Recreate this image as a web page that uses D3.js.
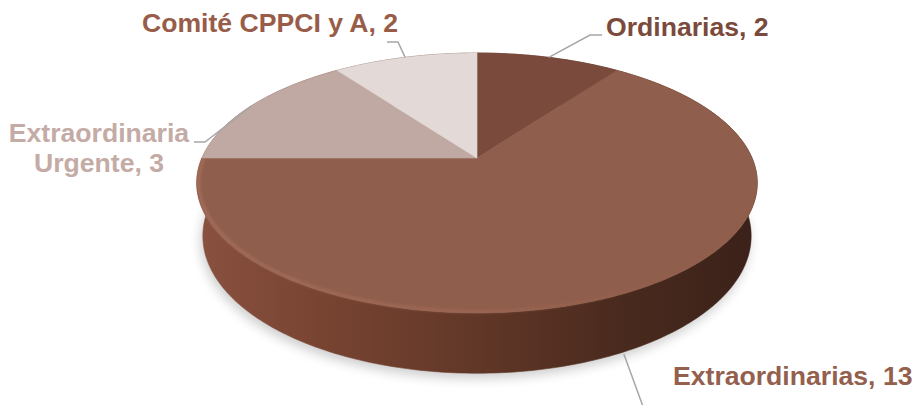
<!DOCTYPE html>
<html>
<head>
<meta charset="utf-8">
<script src="https://cdn.jsdelivr.net/npm/d3@7"></script>
<style>
  html, body { margin: 0; padding: 0; background: #fff; }
  svg { display: block; }
  .lbl { font-family: "Liberation Sans", Arial, sans-serif; font-weight: bold; font-size: 26.6px; }
</style>
</head>
<body>
<svg id="chart"></svg>
<script>
const categories = ["Ordinarias", "Extraordinarias", "Extraordinaria Urgente", "Comité CPPCI y A"];
const values = [2, 13, 3, 2];
const labelLines = [["Ordinarias, 2"], ["Extraordinarias, 13"], ["Extraordinaria", "Urgente, 3"], ["Comité CPPCI y A, 2"]];

const width = 913;
const height = 405;

const topColors = ["#7a4b3d", "#905e4c", "#c1a9a3", "#e3dad7"];
const textColors = ["#7b4a3b", "#93604e", "#c4aba5", "#985c48"];

const svg = d3.select("#chart")
  .attr("width", width)
  .attr("height", height);

// simple perspective camera for the tilted disc
const cx = 477, cy = 158;
const f = 1275, dist = 1, R = 0.2157, thick = 0.047;
const sinP = 0.455, cosP = Math.sqrt(1 - sinP * sinP);

function project(theta, r, y) {
  const X = r * Math.sin(theta);
  const Z = -r * Math.cos(theta);
  const yc = Z * sinP - y * cosP;
  const zc = dist - Z * cosP - y * sinP;
  return [cx + f * X / zc, cy + f * yc / zc];
}

function arcPoints(a0, a1, r, y) {
  const n = Math.max(2, Math.ceil((a1 - a0) / (Math.PI / 180)));
  const pts = [];
  for (let i = 0; i <= n; i++) pts.push(project(a0 + (a1 - a0) * i / n, r, y));
  return pts;
}

const pie = d3.pie().sort(null).value(d => d)(values);
const line = d3.line();

const defs = svg.append("defs");
defs.append("filter").attr("id", "shadow")
  .attr("x", "-20%").attr("y", "-20%").attr("width", "140%").attr("height", "140%")
  .append("feGaussianBlur").attr("stdDeviation", 6);
defs.append("filter").attr("id", "soft")
  .attr("x", "-10%").attr("y", "-10%").attr("width", "120%").attr("height", "120%")
  .append("feGaussianBlur").attr("stdDeviation", 1.6);

const wallGrad = defs.append("linearGradient").attr("id", "wall")
  .attr("gradientUnits", "userSpaceOnUse")
  .attr("x1", 195).attr("x2", 760).attr("y1", 0).attr("y2", 0);
[[0, "#8a5140"], [0.2, "#7a4533"], [0.5, "#613727"], [0.75, "#4a2a1e"], [1, "#3a2119"]]
  .forEach(s => wallGrad.append("stop").attr("offset", s[0]).attr("stop-color", s[1]));

const rimGrad = defs.append("linearGradient").attr("id", "rim")
  .attr("gradientUnits", "userSpaceOnUse")
  .attr("x1", 195).attr("x2", 760).attr("y1", 0).attr("y2", 0);
[[0, "#c08570", 0.6], [0.5, "#b47862", 0.5], [0.85, "#a06450", 0.1], [1, "#a06450", 0]]
  .forEach(s => rimGrad.append("stop").attr("offset", s[0]).attr("stop-color", s[1]).attr("stop-opacity", s[2]));

// soft shadow under the disc
const bottomRing = arcPoints(0, 2 * Math.PI, R, -thick);
svg.append("path")
  .attr("d", line(bottomRing.map(p => [p[0] - 2, p[1] + 5])) + "Z")
  .attr("fill", "#000")
  .attr("opacity", 0.2)
  .attr("filter", "url(#shadow)");

// outer walls
pie.forEach(s => {
  const topArc = arcPoints(s.startAngle, s.endAngle, R, 0);
  const botArc = arcPoints(s.startAngle, s.endAngle, R, -thick).reverse();
  svg.append("path")
    .attr("d", line(topArc.concat(botArc)) + "Z")
    .attr("fill", "url(#wall)")
    .attr("stroke", "url(#wall)")
    .attr("stroke-width", 0.6);
});

// top faces
pie.forEach((s, i) => {
  const pts = [project(0, 0, 0)].concat(arcPoints(s.startAngle, s.endAngle, R, 0));
  svg.append("path")
    .attr("d", line(pts) + "Z")
    .attr("fill", topColors[i])
    .attr("stroke", topColors[i])
    .attr("stroke-width", 0.6);
});

// bevel highlight along the front rim
svg.append("path")
  .attr("d", line(arcPoints(Math.PI * 0.62, Math.PI * 1.5, R * 0.993, 0)))
  .attr("fill", "none")
  .attr("stroke", "url(#rim)")
  .attr("stroke-width", 2)
  .attr("filter", "url(#soft)");

// labels and leader lines
const labelPos = [
  { x: 606, y: 36, anchor: "start", bend: [[590, 35], [602, 35]], edge: 0 },
  { x: 673, y: 385, anchor: "start", bend: [[645, 412]], edge: -thick },
  { x: 99, y: 142, anchor: "middle", bend: [[205, 142], [194, 142]], edge: 0 },
  { x: 142, y: 32, anchor: "start", bend: [[398, 42], [387, 42]], edge: 0 }
];

pie.forEach((s, i) => {
  const mid = (s.startAngle + s.endAngle) / 2;
  const lp = labelPos[i];
  const start = project(mid, R, lp.edge);
  start[1] += lp.edge ? 2 : 0;
  svg.append("path")
    .attr("d", line([start].concat(lp.bend)))
    .attr("fill", "none")
    .attr("stroke", "#a6a6a6")
    .attr("stroke-width", 1.5);

  const t = svg.append("text")
    .attr("class", "lbl")
    .attr("x", lp.x)
    .attr("y", lp.y)
    .attr("text-anchor", lp.anchor)
    .attr("fill", textColors[i]);
  labelLines[i].forEach((txt, k) => {
    t.append("tspan").attr("x", lp.x).attr("dy", k === 0 ? 0 : 30).text(txt);
  });
});
</script>
</body>
</html>
